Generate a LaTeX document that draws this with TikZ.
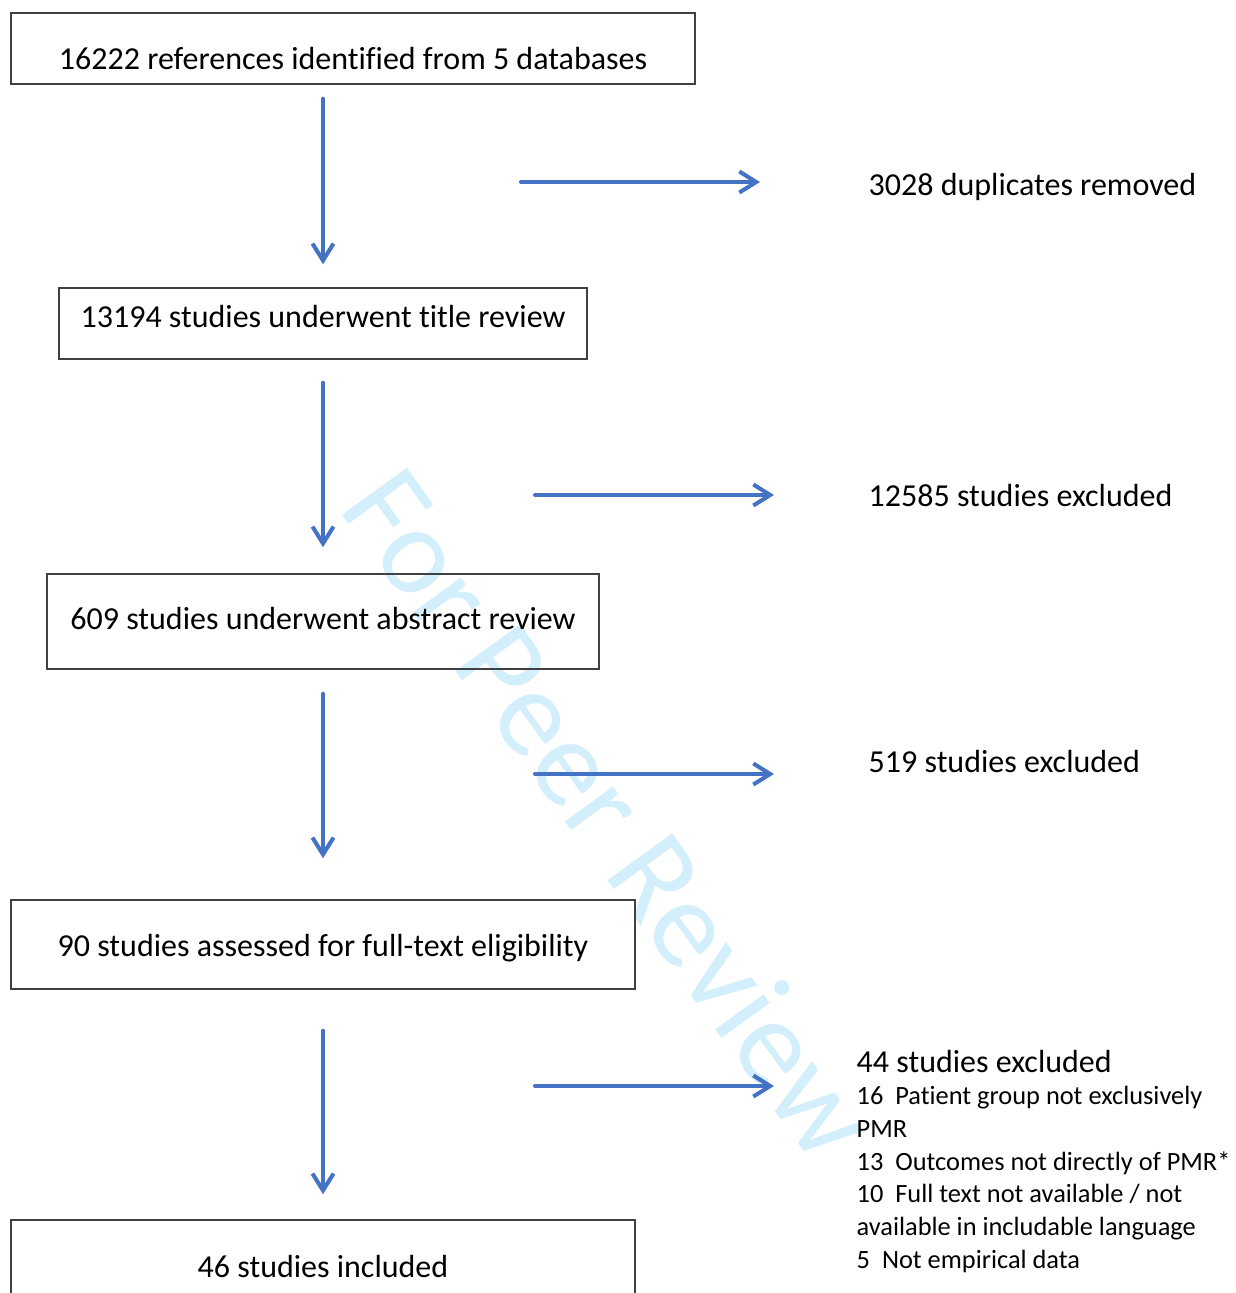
\documentclass[tikz,border=0pt]{standalone}
\usepackage{fontspec}
\setmainfont{Carlito}[Ligatures=NoCommon]
\usepackage{xcolor}
\usepackage{tikz}
\usetikzlibrary{arrows.meta}
\definecolor{FlowBlue}{RGB}{68,114,196}
\definecolor{MarkBlue}{RGB}{212,239,252}
\newcommand{\Main}{\fontsize{9.1pt}{11pt}\selectfont}
\newcommand{\Small}{\fontsize{7.5pt}{9.28pt}\selectfont}
\tikzset{
    Box/.style n args = {3}{draw=black!75,line width=0.4pt,inner xsep=0pt,inner ysep=0pt,
         minimum width=#1,text height=#2,text depth=#3,font=\Main},
    Flow/.style = {draw=FlowBlue,line width=1.15pt,line cap=round,
         -{Straight Barb[length=4.8pt,width=6pt]}},
    Side/.style = {anchor=base west,inner sep=0pt,font=\Main},
    Mark/.style = {anchor=base west,inner sep=0pt,rotate=-54,text=MarkBlue,
         font=\fontsize{35.5pt}{40pt}\selectfont}
}

\begin{document}
\begin{tikzpicture}[x=0.01cm,y=-0.01cm]
        \clip (0,0) rectangle (1236,1293);
        \node[Mark] (wm) at (337,508) {For Peer Review};
        % boxes down the left
        \node[Box={6.84cm}{0.56cm}{0.15cm}] (b1) at (353,48.5) {16222 references identified from 5 databases};
        \node[Box={5.28cm}{0.39cm}{0.32cm}] (b2) at (323,323.5) {13194 studies underwent title review};
        \node[Box={5.52cm}{0.55cm}{0.40cm}] (b3) at (323,621.5) {609 studies underwent abstract review};
        \node[Box={6.24cm}{0.56cm}{0.33cm}] (b4) at (323,944.5) {90 studies assessed for full-text eligibility};
        \node[Box={6.24cm}{0.57cm}{0.63cm}] (b5) at (323,1280) {46 studies included};
        % texts on the right
        \node[Side] (x1) at (868,195) {3028 duplicates removed};
        \node[Side] (x2) at (868,506) {12585 studies excluded};
        \node[Side] (x3) at (868,772) {519 studies excluded};
        \node[Side] (x4) at (856,1072) {44 studies excluded};
        \node[Side,font=\Small,align=left] (r4) at (856,1268)
            {16\ \ Patient group not exclusively\\PMR\\13\ \ Outcomes not directly of PMR*\\
             10\ \ Full text not available / not\\available in includable language\\5\ \ Not empirical data};
        % arrows
        \foreach \a/\b/\s/\e in {b1/b2/.14cm/.23cm, b2/b3/.23cm/.26cm, b3/b4/.24cm/.41cm, b4/b5/.41cm/.25cm}
            {\draw[Flow,shorten <=\s,shorten >=\e] (\a.south -| \b.north) -- (\b.north);}
        \foreach \Y/\A/\B [count=\i] in {182/521/760, 495/535/774, 774/535/774, 1086/535/774}
            {\coordinate (L\i) at (\A,\Y);
             \coordinate (R\i) at (\B,\Y);
             \draw[Flow] (L\i) -- (R\i);}
\end{tikzpicture}
\end{document}
